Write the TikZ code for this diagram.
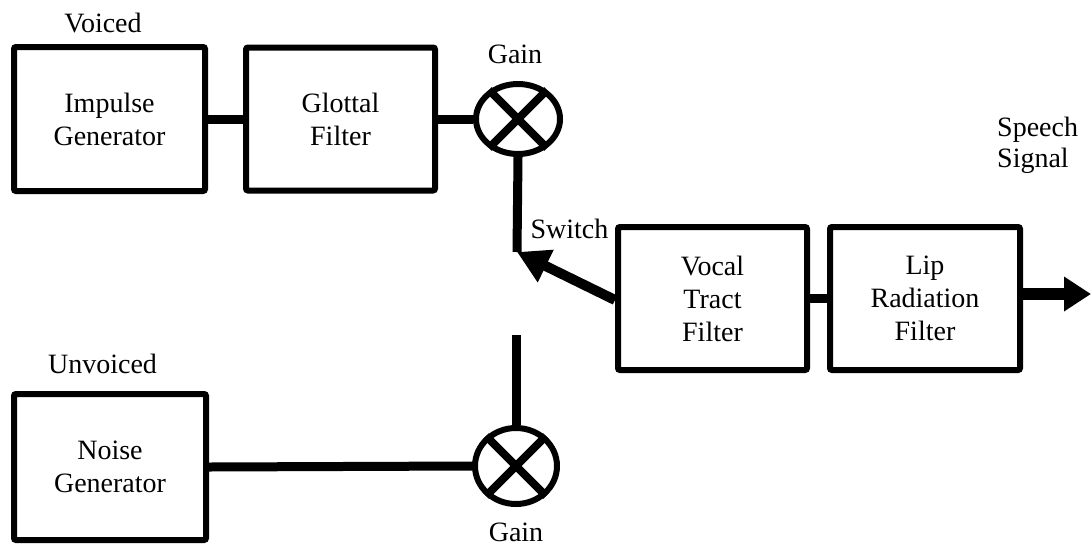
\documentclass[tikz,border=0pt]{standalone}
\usepackage{fontspec}
\setmainfont{Liberation Serif}
\usetikzlibrary{shapes.geometric,arrows.meta}
\begin{document}
\begin{tikzpicture}[x=1pt,y=-1pt,
  every node/.style={font=\rmfamily\fontsize{28}{33}\selectfont},
  blk/.style={draw,line width=6pt,rounded corners=2pt,align=center,inner sep=0pt},
  gainnode/.style={draw,ellipse,line width=6pt,inner sep=0pt},
  xline/.style={line width=8pt},
  conn/.style={line width=9pt},
  lbl/.style={anchor=base,inner sep=0pt}]
\useasboundingbox (0,0) rectangle (1092,547);
% blocks
\node[blk,minimum width=191pt,minimum height=144pt] (imp) at (109.5,119) {Impulse\\Generator};
\node[blk,minimum width=189pt,minimum height=143pt] (glot) at (340.5,119) {Glottal\\Filter};
\node[blk,minimum width=192pt,minimum height=146pt] (noise) at (110,467) {Noise\\Generator};
\node[blk,minimum width=189pt,minimum height=143pt] (vocal) at (712.5,298.5) {Vocal\\Tract\\Filter};
\node[blk,minimum width=190pt,minimum height=143pt] (lip) at (925,298.5) {Lip\\Radiation\\Filter};
% gains
\node[gainnode,minimum width=84pt,minimum height=70pt] (g1) at (518,119) {};
\node[gainnode,minimum width=82pt,minimum height=76pt] (g2) at (516,466) {};
\draw[xline] (g1.135) -- (g1.-45) (g1.45) -- (g1.-135);
\draw[xline] (g2.135) -- (g2.-45) (g2.45) -- (g2.-135);
% switch contacts
\coordinate (s1) at (517,252);
\coordinate (s2) at (516,335);
\coordinate (out) at (1091,294);
% connectors
\draw[conn] (imp.east) -- (glot.west);
\draw[conn] (glot.east) -- (g1.west);
\draw[conn] (g1.south) -- (s1);
\draw[conn] (s2) -- (g2.north);
\draw[conn] (noise.east) -- (g2.west);
\draw[conn] (vocal.east) -- (lip.west);
\draw[line width=10pt,-{Triangle[length=32pt,width=34pt]}] (vocal.west |- 0,300) -- (s1);
\draw[line width=12pt,-{Triangle[length=27pt,width=33pt]}] (lip.east |- out) -- (out);
% labels
\node[lbl] (lv) at (103,32) {Voiced};
\node[lbl] (lu) at (102.5,373) {Unvoiced};
\node[lbl] (lg1) at (515,63) {Gain};
\node[lbl] (lg2) at (516,541) {Gain};
\node[lbl] (ls) at (569.5,238) {Switch};
\node[anchor=base west,inner sep=0pt,align=left,font=\rmfamily\fontsize{28}{31}\selectfont] (lsp) at (997,167) {Speech\\Signal};
\end{tikzpicture}
\end{document}
